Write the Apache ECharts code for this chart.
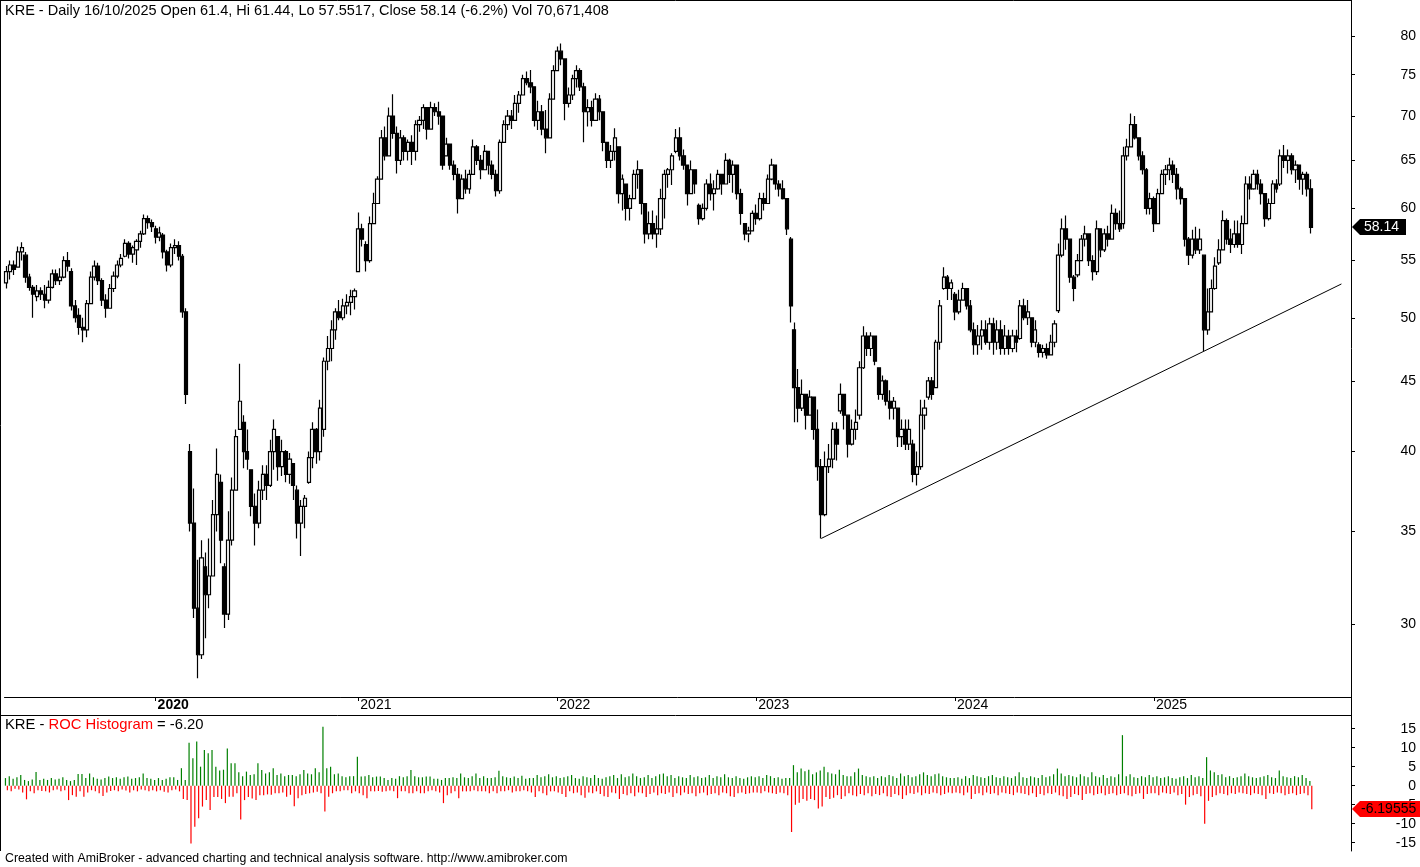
<!DOCTYPE html>
<html><head><meta charset="utf-8">
<script src="https://cdn.jsdelivr.net/npm/echarts@6/dist/echarts.min.js"></script>
<style>html,body{margin:0;padding:0;background:#fff}#c{width:1420px;height:867px}</style>
</head><body><div id="c"></div>
<script>
// ---- data (weekly OHLC: [open, close, low, high]) ----
const firstWeek = '2019-04-01';
const futureWeeks = 10;
const candles2019 = [[53.0,54.0,52.5,54.5],[54.0,54.6,53.3,55.0],[54.6,54.2,53.7,55.0],[54.4,55.8,54.4,56.3],[55.8,56.2,55.0,56.7],[55.5,53.5,53.0,55.8],[53.5,52.6,52.3,53.8],[52.6,52.0,50.0,52.8],[51.8,52.3,51.4,52.8],[52.3,52.0,51.5,52.6],
[52.0,51.5,50.8,52.8],[51.5,52.6,51.2,53.2],[52.6,53.8,52.5,54.2],[53.8,53.2,52.8,54.2],[53.2,53.5,52.8,54.3],[53.5,55.0,53.4,55.4],[55.0,54.5,54.0,55.8],[54.0,51.0,50.6,54.3],[51.0,50.0,49.6,51.5],[50.2,49.2,48.6,50.8],
[49.2,49.0,48.0,50.0],[49.0,51.2,48.4,51.5],[51.2,53.5,51.2,54.0],[53.5,54.5,53.2,55.0],[54.5,53.2,52.8,54.8],[53.2,51.5,51.0,53.4],[51.5,50.8,50.0,52.0],[50.8,52.5,50.8,52.9],[52.5,53.6,52.2,54.0],[53.6,54.6,53.4,55.0],
[54.6,55.2,54.4,55.6],[55.4,56.6,55.3,57.0],[56.6,55.6,55.2,56.8],[55.6,56.2,54.8,56.4],[56.0,56.8,54.6,57.0],[56.8,57.5,56.2,57.8],[57.5,59.0,57.4,59.4],[59.0,58.6,58.0,59.3],[58.6,58.2,57.7,58.9]];
const candles2020 = [[58.0,57.2,56.6,58.3],[57.2,57.6,56.8,58.2],[57.4,55.8,55.2,57.6],[55.8,54.6,54.0,56.0],[54.6,56.2,54.4,56.6],[56.2,56.4,55.6,57.0],[56.4,55.4,55.0,56.8],[55.4,50.5,50.0,55.6],[50.5,44.0,43.3,50.8],[40.0,35.5,35.0,40.5],
[35.5,30.8,30.3,37.6],[30.8,28.5,27.4,33.4],[28.5,33.5,28.3,34.5],[33.0,31.5,29.3,33.8],[31.5,32.5,30.8,34.6],[32.5,36.0,32.5,36.9],[36.0,38.5,35.0,40.2],[38.0,34.5,33.2,38.5],[33.0,30.5,29.8,33.2],[30.5,34.5,30.2,36.2],
[34.5,37.5,34.2,38.3],[37.5,41.0,37.5,41.5],[41.5,43.5,41.5,46.3],[42.0,40.0,38.9,42.5],[40.0,39.5,38.8,41.5],[38.8,36.5,35.9,38.8],[36.5,35.5,34.2,37.3],[35.5,37.5,35.2,38.1],[37.5,38.5,36.9,39.1],[38.5,37.8,36.9,39.1],
[37.8,40.0,37.7,40.8],[40.0,41.5,38.8,42.2],[41.0,39.0,38.1,41.0],[39.0,40.0,38.4,40.8],[40.0,38.5,38.0,40.1],[38.5,39.5,37.9,39.9],[39.2,37.8,36.9,39.2],[37.5,35.5,34.6,37.8],[35.5,36.5,33.6,36.9],[36.5,37.0,35.2,37.2],
[38.0,39.6,37.9,40.0],[39.6,41.5,38.9,42.0],[41.5,40.0,39.2,41.6],[40.0,43.0,39.4,43.6],[41.5,46.5,41.0,46.8],[46.5,47.5,45.8,48.5],[47.5,49.0,46.5,49.8],[49.0,50.5,48.2,50.8],[50.5,50.0,49.8,51.5],[50.0,51.0,49.8,51.6],
[51.0,51.3,50.3,52.0],[51.3,51.8,50.2,52.4],[51.8,52.3,50.7,52.5]];
const candles2021 = [[54.0,58.0,54.0,59.6],[58.0,57.0,56.3,58.5],[56.5,55.0,54.0,56.8],[55.0,58.5,54.8,59.2],[58.5,60.5,58.5,61.6],[60.5,63.0,60.5,63.3],[63.0,67.5,63.0,68.4],[67.5,65.5,65.0,68.8],[65.5,70.0,65.5,71.0],[70.0,68.0,67.4,72.6],
[68.0,65.0,63.6,68.8],[65.0,67.5,64.5,68.4],[67.5,66.0,65.0,67.8],[66.0,67.0,65.0,67.3],[67.0,66.0,64.5,67.8],[66.0,69.0,65.0,69.5],[69.0,69.5,68.2,70.0],[69.5,71.0,68.5,71.4],[71.0,68.5,67.3,71.0],[68.5,71.0,68.5,71.7],
[71.0,70.5,70.0,71.5],[70.5,70.0,69.0,71.7],[70.0,64.5,64.0,70.0],[65.5,66.8,65.5,67.5],[66.8,64.5,64.0,66.8],[64.5,63.5,62.9,65.0],[63.5,61.0,59.5,64.2],[61.0,63.0,61.0,63.5],[63.0,62.0,61.5,64.0],[62.0,63.5,61.5,64.0],
[63.5,66.5,63.5,67.3],[66.5,65.0,64.5,66.7],[65.0,64.0,63.0,65.6],[64.0,66.0,64.0,66.7],[66.0,64.5,63.5,66.0],[64.5,63.5,63.0,65.0],[63.5,61.8,61.2,64.0],[61.8,67.0,61.5,67.3],[67.0,69.0,67.0,69.5],[69.0,70.0,68.4,70.7],
[70.0,69.5,68.5,70.7],[69.5,71.5,69.5,72.5],[71.5,72.5,70.4,73.0],[72.5,74.5,72.5,75.0],[74.5,74.0,73.7,75.4],[74.0,73.5,72.7,75.6],[73.5,69.5,68.8,73.5],[69.5,70.5,68.4,71.8],[70.5,68.5,67.8,71.3],[68.5,67.5,65.8,70.7],
[67.5,72.0,67.5,72.7],[72.0,75.5,72.0,76.2]];
const candles2022 = [[75.5,78.0,75.5,78.6],[78.0,77.0,76.2,79.0],[77.0,71.5,69.5,77.0],[71.5,72.5,71.0,73.4],[72.5,74.5,71.9,75.0],[74.5,75.5,73.4,76.2],[75.5,73.5,73.0,75.8],[73.5,70.5,67.0,74.0],[70.5,71.0,68.8,72.0],[71.0,69.5,68.8,71.8],
[69.5,72.0,69.5,72.7],[72.0,70.5,69.5,72.5],[70.5,67.0,66.0,70.5],[67.0,65.0,64.2,67.0],[65.0,66.0,64.2,66.7],[66.0,67.5,65.0,68.6],[66.5,61.5,60.5,66.5],[61.5,63.0,59.8,63.5],[62.5,60.0,58.8,62.5],[60.0,61.0,58.8,61.4],
[61.0,63.5,61.0,64.0],[63.5,64.0,62.0,65.0],[64.0,60.5,59.4,64.0],[60.5,57.5,56.6,60.5],[57.5,58.5,57.0,59.7],[58.5,57.5,57.0,59.8],[57.5,58.0,56.2,59.3],[58.0,61.0,57.4,62.0],[61.0,63.5,59.0,64.0],[63.5,64.0,62.1,64.2],
[64.0,65.5,62.4,65.8],[66.0,67.5,65.8,68.5],[67.5,65.5,65.0,68.7],[65.5,64.5,64.0,66.2],[64.5,61.5,60.3,64.5],[61.5,64.0,61.5,65.0],[64.0,62.5,61.5,64.0],[60.3,59.0,58.4,60.5],[59.0,60.0,58.8,60.5],[60.0,62.5,59.8,63.0],
[62.5,61.5,60.8,63.6],[61.5,62.0,59.8,62.9],[62.0,63.5,61.9,64.0],[63.5,62.5,61.4,63.5],[62.5,65.0,62.5,65.8],[65.0,63.5,62.6,65.2],[63.5,64.5,61.6,65.0],[64.5,61.5,60.9,64.5],[61.5,59.5,58.4,62.0],[58.5,57.5,56.9,58.5],
[57.5,57.8,56.7,58.2],[57.8,59.5,57.8,59.8]];
const candles2023 = [[59.5,59.0,58.4,60.4],[59.0,61.0,58.8,61.6],[61.0,60.5,59.8,61.6],[60.5,63.0,60.5,63.5],[63.0,64.5,62.9,65.2],[64.5,62.5,61.9,64.5],[62.5,62.0,61.2,62.9],[62.0,61.0,60.9,62.9],[61.0,58.0,57.4,61.0],[57.0,51.0,49.6,57.2],
[49.0,44.5,42.0,49.6],[44.5,43.0,42.0,45.9],[43.0,44.0,42.8,45.1],[44.0,42.5,41.5,44.0],[42.5,43.8,42.5,44.3],[43.8,41.5,40.8,43.8],[41.5,39.0,38.1,42.9],[39.0,36.0,34.6,39.5],[36.0,39.0,35.9,40.0],[39.0,39.5,38.6,40.5],
[39.5,41.5,38.9,42.0],[41.5,40.5,39.4,42.0],[42.8,44.0,42.6,44.8],[44.0,42.5,41.5,44.0],[42.5,40.5,39.6,42.5],[40.5,41.5,40.4,42.2],[41.5,42.0,40.8,42.9],[42.5,46.0,42.2,46.5],[46.0,48.5,45.9,49.3],[48.5,47.5,46.9,48.8],
[47.5,48.5,46.9,48.8],[48.5,46.5,46.2,48.5],[46.0,44.0,43.6,46.0],[44.0,45.0,43.6,45.4],[45.0,43.5,43.2,45.1],[43.5,43.0,42.2,44.3],[43.0,43.5,42.2,43.8],[43.0,41.0,40.3,43.0],[41.0,41.5,40.3,42.2],[41.5,40.5,40.1,42.2],
[40.5,41.5,40.1,42.2],[40.5,38.5,38.0,40.8],[38.5,39.0,37.8,40.0],[39.0,42.5,38.8,43.6],[42.5,43.0,41.5,43.6],[43.8,45.0,43.6,45.3],[45.0,44.0,43.6,45.3],[44.5,48.0,44.5,48.2],[48.0,51.0,47.4,51.5],[52.5,53.5,52.4,54.4],
[53.5,52.5,51.5,53.7],[52.5,53.0,51.5,53.3]];
const candles2024 = [[52.0,50.5,49.8,52.2],[50.5,51.5,50.3,52.4],[51.5,52.5,51.5,53.0],[52.5,51.0,50.7,52.5],[51.0,49.0,48.8,51.5],[49.0,47.8,47.0,49.6],[47.8,48.5,47.0,49.4],[48.5,49.0,47.4,49.8],[49.0,48.0,47.8,49.8],[48.0,49.5,47.4,50.0],
[49.5,48.0,47.0,50.0],[48.0,49.0,47.4,49.8],[49.0,47.5,47.0,49.8],[47.5,48.5,47.0,49.4],[48.5,47.5,47.0,49.0],[47.5,48.5,47.2,49.0],[48.5,48.0,47.2,49.0],[48.3,51.0,48.2,51.5],[51.0,50.0,49.8,51.6],[50.0,50.5,49.4,51.5],
[50.0,48.0,47.6,50.0],[48.0,49.0,47.6,49.8],[47.8,47.2,46.8,48.0],[47.2,47.5,46.8,47.8],[47.5,47.0,46.7,47.9],[47.0,48.0,47.0,48.6],[48.0,49.5,47.6,49.8],[50.6,55.5,50.4,56.6],[55.5,58.0,55.3,59.0],[58.0,57.0,56.0,59.3],
[57.0,53.5,53.0,57.0],[53.5,52.5,51.4,53.7],[53.7,55.0,53.5,55.6],[55.0,57.0,55.0,57.4],[57.0,57.5,56.3,58.3],[57.5,55.0,54.5,57.5],[55.0,54.0,53.2,55.5],[54.0,58.0,53.7,58.8],[58.0,56.0,55.3,58.0],[56.0,57.5,55.8,58.0],
[57.5,57.0,56.3,58.3],[57.0,59.5,57.0,60.4],[59.5,58.5,57.9,60.0],[58.5,58.0,57.7,59.8],[58.5,65.5,58.0,66.5],[65.5,66.5,65.0,67.4],[66.5,69.0,66.5,70.3],[69.0,67.5,67.3,70.0],[67.5,65.5,65.0,67.5],[65.5,64.0,63.5,66.0],
[64.0,60.0,59.4,64.2],[60.0,61.0,59.4,61.6]];
const candles2025 = [[61.0,58.5,57.7,61.2],[58.5,61.5,58.5,62.0],[61.5,63.5,61.5,64.0],[63.5,64.0,62.4,64.5],[64.0,64.5,62.9,65.3],[64.5,63.5,62.6,65.0],[63.5,62.0,60.9,64.2],[62.0,61.0,60.4,62.2],[61.0,57.0,56.3,61.0],[57.0,55.5,54.6,57.2],
[55.5,57.0,55.2,57.9],[57.0,56.0,55.6,58.2],[56.0,57.0,55.6,58.0],[55.5,49.0,47.3,55.5],[49.0,50.5,48.6,52.5],[50.5,52.5,50.5,53.3],[52.5,54.5,52.4,55.3],[54.8,56.0,54.6,57.0],[56.0,58.8,56.0,59.8],[58.8,57.0,56.5,59.0],
[57.0,56.5,55.7,58.0],[56.5,57.5,56.2,58.8],[57.5,56.5,56.2,58.8],[56.5,58.5,55.6,59.3],[58.5,62.5,58.5,63.3],[62.5,62.0,60.9,63.3],[62.0,63.5,61.9,64.0],[63.5,62.5,61.9,64.0],[62.5,61.5,60.4,63.0],[61.5,59.0,58.2,61.5],
[59.0,60.5,58.8,61.0],[60.5,62.5,60.5,62.9],[62.5,62.0,61.6,63.0],[62.5,65.5,62.3,66.2],[65.5,65.0,64.2,66.7],[65.0,65.5,63.6,66.2],[65.5,64.0,63.5,65.8],[64.0,64.5,62.6,65.0],[64.5,63.0,61.9,64.5],[63.0,63.5,61.4,63.8],
[63.5,62.0,61.2,63.8],[62.0,58.14,57.55,63.0]];

// ROC histogram (largest up day and largest down day of each week, %)
const rocUp2019 = [2.0,2.5,1.8,2.2,2.8,1.5,1.2,1.6,3.6,1.5,1.8,1.5,2.0,1.6,1.8,2.2,1.5,1.2,1.5,3.1,3.1,2.0,3.2,2.2,1.8,1.6,2.0,2.4,2.0,2.2,1.8,2.2,2.4,1.8,2.0,2.2,3.2,2.0,1.8];
const rocDown2019 = [-1.2,-1.5,-0.8,-1.0,-1.8,-3.6,-1.5,-2.0,-1.2,-1.4,-1.5,-1.8,-1.2,-1.0,-1.5,-1.2,-3.8,-2.5,-2.9,-1.5,-2.9,-1.8,-1.2,-1.5,-2.0,-2.7,-1.8,-1.4,-1.2,-1.5,-1.0,-1.3,-1.8,-1.2,-1.5,-1.0,-1.2,-1.5,-1.2];
const rocUp2020 = [1.5,2.0,1.5,1.8,2.2,2.2,1.5,4.6,1.5,11.3,7.2,11.6,5.0,9.4,8.5,9.4,5.0,4.0,4.2,9.8,5.9,5.9,3.5,2.5,3.7,2.8,3.0,5.9,4.1,3.2,3.5,4.6,2.8,3.2,2.5,2.8,2.8,2.5,3.0,4.1,3.2,3.0,4.6,3.5,15.5,4.6,5.0,3.0,3.2,2.5,2.2,2.5,2.5];
const rocDown2020 = [-1.5,-1.2,-1.6,-1.8,-1.2,-1.0,-1.5,-3.5,-3.8,-15.2,-10.8,-8.6,-5.5,-3.8,-6.4,-3.0,-3.0,-3.5,-4.6,-2.9,-2.9,-2.0,-8.9,-3.8,-3.0,-3.4,-3.8,-2.5,-2.5,-2.3,-2.4,-2.0,-2.0,-1.8,-2.9,-2.4,-5.4,-3.3,-2.5,-2.2,-2.0,-1.8,-1.6,-2.0,-6.8,-2.9,-2.0,-1.5,-1.5,-1.2,-1.2,-2.0,-1.5];
const rocUp2021 = [7.6,2.4,2.5,2.8,2.2,2.4,2.4,2.0,1.5,2.0,1.8,2.5,2.2,2.5,4.1,2.5,2.2,2.2,2.4,2.4,1.8,1.8,1.5,2.0,2.0,2.2,2.0,3.2,2.2,2.0,2.5,3.2,2.0,2.5,2.0,2.0,2.2,3.9,2.5,2.2,2.0,2.4,2.0,2.6,1.8,2.0,2.0,2.8,2.2,2.5,3.0,2.2];
const rocDown2021 = [-2.0,-2.5,-3.3,-1.5,-1.5,-1.4,-1.6,-1.5,-1.3,-1.5,-3.3,-1.5,-1.5,-2.0,-2.0,-1.5,-2.0,-2.0,-1.5,-1.2,-1.5,-1.8,-4.6,-2.5,-2.0,-1.5,-3.3,-1.5,-1.5,-1.5,-1.2,-1.5,-1.5,-1.5,-2.0,-1.5,-2.0,-1.5,-1.5,-1.2,-1.8,-1.5,-1.5,-1.2,-1.5,-1.8,-3.0,-1.5,-2.0,-2.5,-1.5,-1.5];
const rocUp2022 = [2.5,2.0,2.2,2.5,2.8,2.0,1.8,2.5,2.2,2.0,2.8,2.0,1.8,2.2,2.5,2.8,2.0,3.0,2.2,2.5,3.2,2.5,2.0,2.2,2.8,2.0,2.5,3.0,3.2,2.5,2.8,2.0,2.5,2.2,2.0,2.8,2.2,2.5,2.0,2.2,2.8,2.0,2.5,2.2,3.0,2.2,2.0,2.5,2.0,1.8,2.2,2.5];
const rocDown2022 = [-1.8,-2.2,-3.0,-1.5,-2.0,-1.8,-2.5,-3.2,-1.8,-2.0,-1.5,-2.2,-2.8,-3.0,-1.8,-2.0,-3.5,-2.2,-2.5,-2.0,-2.8,-1.8,-2.0,-3.0,-2.2,-1.8,-2.5,-2.0,-2.2,-1.8,-3.0,-2.0,-2.5,-1.8,-2.2,-2.0,-2.8,-2.0,-1.8,-2.5,-2.2,-2.0,-2.5,-1.8,-2.0,-2.8,-3.0,-2.0,-1.8,-2.2,-2.0,-1.8];
const rocUp2023 = [2.2,2.5,2.0,2.8,2.5,2.0,2.2,1.8,2.0,2.0,5.4,3.5,4.5,3.8,4.2,3.0,3.5,4.0,5.0,3.5,3.2,3.0,4.2,2.8,2.5,2.5,3.5,4.5,2.8,2.5,2.2,2.5,2.0,2.5,2.2,2.8,2.5,2.0,3.2,2.5,2.8,2.2,2.5,3.0,3.5,2.8,2.5,3.0,3.2,2.5,2.2,2.0];
const rocDown2023 = [-1.8,-2.0,-1.5,-1.8,-2.0,-2.2,-1.8,-2.0,-2.5,-12.2,-5.0,-4.5,-3.5,-4.0,-3.5,-3.8,-6.0,-5.5,-3.0,-3.5,-3.2,-2.5,-3.5,-2.8,-2.0,-2.5,-2.8,-2.2,-2.5,-2.0,-2.8,-2.2,-2.5,-2.0,-2.8,-3.0,-2.2,-2.5,-3.5,-2.5,-2.0,-2.2,-1.8,-2.5,-2.0,-2.2,-1.8,-2.0,-2.5,-2.2,-1.8,-2.0];
const rocUp2024 = [2.0,2.2,1.8,2.5,2.0,2.8,2.5,2.2,2.0,2.5,2.8,2.2,2.0,2.5,2.2,2.0,2.5,3.5,2.2,2.0,2.5,2.2,2.0,2.8,2.2,2.5,3.0,4.5,3.2,2.5,2.8,2.5,2.2,3.0,2.5,2.2,3.5,2.5,2.2,2.8,2.0,2.5,2.2,3.0,13.3,2.5,3.0,2.2,2.0,2.5,2.2,2.8];
const rocDown2024 = [-1.8,-2.0,-2.5,-1.8,-3.5,-2.2,-2.0,-2.5,-1.8,-2.2,-2.0,-2.5,-1.8,-2.0,-2.2,-2.5,-1.8,-2.0,-2.2,-2.5,-2.0,-3.0,-2.2,-2.5,-2.0,-2.2,-1.8,-2.5,-2.8,-3.5,-3.0,-2.2,-2.5,-3.8,-2.2,-2.0,-2.5,-2.2,-2.0,-2.5,-2.2,-2.0,-2.5,-2.2,-2.0,-2.5,-2.8,-2.2,-2.0,-3.5,-2.2,-2.0];
const rocUp2025 = [2.2,2.5,2.0,2.2,2.5,2.0,1.8,2.2,2.5,2.0,2.8,2.2,2.5,2.0,7.5,4.0,3.5,2.8,3.0,2.2,2.5,2.0,2.2,2.5,3.2,2.5,2.2,2.0,2.2,2.5,2.8,2.2,2.0,4.0,2.5,2.2,2.0,2.5,2.2,2.8,2.0,1.2];
const rocDown2025 = [-2.0,-2.5,-1.8,-2.0,-2.2,-1.8,-2.5,-2.2,-5.0,-3.0,-2.5,-2.2,-2.8,-10.0,-4.0,-3.0,-2.5,-2.0,-2.2,-2.5,-2.0,-2.2,-1.8,-2.0,-2.2,-2.5,-2.0,-2.2,-2.5,-3.5,-2.0,-2.2,-1.8,-2.0,-2.5,-2.2,-2.0,-2.5,-2.2,-2.0,-2.5,-6.2];

const priceTicks = [30,35,40,45,50,55,60,65,70,75,80];
const rocTicks = [-15,-10,-5,0,5,10,15];
const trendStart = [213, 34.6];
const trendEnd = [349, 52.9];
const lastClose = 58.14;
const lastRoc = -6.19555;
const headerText = 'KRE - Daily 16/10/2025 Open 61.4, Hi 61.44, Lo 57.5517, Close 58.14 (-6.2%) Vol 70,671,408';
const footerText = 'Created with AmiBroker - advanced charting and technical analysis software. http://www.amibroker.com';

// ---- build ----
const candles = [].concat(candles2019,candles2020,candles2021,candles2022,candles2023,candles2024,candles2025);
const rocUp = [].concat(rocUp2019,rocUp2020,rocUp2021,rocUp2022,rocUp2023,rocUp2024,rocUp2025);
const rocDown = [].concat(rocDown2019,rocDown2020,rocDown2021,rocDown2022,rocDown2023,rocDown2024,rocDown2025);
const nCat = candles.length + futureWeeks;
const cats = [];
const t0 = Date.parse(firstWeek + 'T00:00:00Z');
for (let i = 0; i < nCat; i++) cats.push(new Date(t0 + i*7*86400000).toISOString().slice(0,10));
function yearOf(i){ return new Date(Date.parse(cats[i]+'T00:00:00Z') + 3*86400000).getUTCFullYear(); }
const yearStart = cats.map((c,i) => i > 0 && yearOf(i) !== yearOf(i-1));

const FONT = '"Liberation Sans", Arial, sans-serif';
const GL = 4.5, GW = 1346.5;

const chart = echarts.init(document.getElementById('c'), null, {renderer:'canvas'});
chart.setOption({
  animation: false,
  backgroundColor: '#fff',
  title: [
    {text: headerText, left: 5, top: 3, padding: 0, textStyle:{fontFamily:FONT, fontSize:14.5, fontWeight:'normal', color:'#000'}},
    {text: '{a|KRE - }{r|ROC Histogram}{a| = -6.20}', left: 5, top: 717, padding: 0,
     textStyle:{fontFamily:FONT, fontSize:14.8, fontWeight:'normal', color:'#000',
       rich:{a:{fontFamily:FONT, fontSize:14.8, color:'#000'}, r:{fontFamily:FONT, fontSize:14.8, color:'#ff0000'}}}},
    {text: footerText, left: 5, top: 853, padding: 0, textStyle:{fontFamily:FONT, fontSize:12.3, fontWeight:'normal', color:'#000'}}
  ],
  grid: [
    {left: GL, width: GW, top: 0, height: 697},
    {left: GL, width: GW, top: 715, height: 136}
  ],
  xAxis: [
    {type:'category', gridIndex:0, data: cats, boundaryGap:true,
     axisLine:{show:true, onZero:false, lineStyle:{color:'#000', width:1}},
     axisTick:{show:true, alignWithLabel:true, length:4, interval:(i)=>yearStart[i], lineStyle:{color:'#000'}},
     axisLabel:{interval:(i)=>yearStart[i], align:'left', margin:1, padding:[0,0,0,2], color:'#000', fontFamily:FONT, fontSize:14,
       formatter:(v,i)=>{ const y = yearOf(i); return y === 2020 ? '{b|'+y+'}' : String(y); },
       rich:{b:{fontWeight:'bold', fontFamily:FONT, fontSize:14, color:'#000'}}},
     splitLine:{show:false}},
    {type:'category', gridIndex:1, data: cats, boundaryGap:true, show:false}
  ],
  yAxis: [
    {type:'log', gridIndex:0, position:'right', logBase:10, min:26.56, max:84.95,
     axisLine:{show:true, onZero:false, lineStyle:{color:'#000', width:1}},
     axisTick:{show:true, length:4, customValues: priceTicks, lineStyle:{color:'#000'}},
     axisLabel:{customValues: priceTicks, align:'right', margin:65, color:'#000', fontFamily:FONT, fontSize:14},
     splitLine:{show:false}},
    {type:'value', gridIndex:1, position:'right', min:-17.2, max:18.6,
     axisLine:{show:true, onZero:false, lineStyle:{color:'#000', width:1}},
     axisTick:{show:true, length:4, customValues: rocTicks, lineStyle:{color:'#000'}},
     axisLabel:{customValues: rocTicks, align:'right', margin:65, color:'#000', fontFamily:FONT, fontSize:14},
     splitLine:{show:false}}
  ],
  series: [
    {type:'candlestick', xAxisIndex:0, yAxisIndex:0, data: candles, barWidth: 3.6,
     itemStyle:{color:'#ffffff', color0:'#000000', borderColor:'#000000', borderColor0:'#000000', borderColorDoji:'#000000', borderWidth:1.2}},
    {type:'line', xAxisIndex:0, yAxisIndex:0, data:[trendStart, trendEnd], symbol:'none', z:5,
     lineStyle:{color:'#000', width:1}},
    {type:'bar', xAxisIndex:1, yAxisIndex:1, data: rocUp, barWidth:1.2, barGap:'60%', itemStyle:{color:'#008000'}},
    {type:'bar', xAxisIndex:1, yAxisIndex:1, data: rocDown, barWidth:1.2, itemStyle:{color:'#ff0000'}}
  ]
});

const yP = Math.round(chart.convertToPixel({yAxisIndex:0}, lastClose));
const yR = Math.round(chart.convertToPixel({yAxisIndex:1}, lastRoc));
chart.setOption({
  graphic: [
    {type:'line', shape:{x1:0.5, y1:0, x2:0.5, y2:851}, style:{stroke:'#000', lineWidth:1}, z:100},
    {type:'line', shape:{x1:0, y1:0.5, x2:1351, y2:0.5}, style:{stroke:'#000', lineWidth:1}, z:100},
    {type:'line', shape:{x1:0, y1:715.5, x2:1351, y2:715.5}, style:{stroke:'#000', lineWidth:1}, z:100},
    {type:'line', shape:{x1:1351.5, y1:697, x2:1351.5, y2:716}, style:{stroke:'#000', lineWidth:1}, z:100},
    {type:'polygon', shape:{points:[[1352,yP],[1360,yP-8],[1406,yP-8],[1406,yP+8],[1360,yP+8]]}, style:{fill:'#000'}, z:100},
    {type:'text', x:1364, y:yP, style:{text: lastClose.toFixed(2), fill:'#fff', font:'14px '+FONT, verticalAlign:'middle'}, z:101},
    {type:'polygon', shape:{points:[[1352,yR],[1360,yR-8],[1420,yR-8],[1420,yR+8],[1360,yR+8]]}, style:{fill:'#ff0000'}, z:100},
    {type:'text', x:1361, y:yR, style:{text: String(lastRoc), fill:'#000', font:'14px '+FONT, verticalAlign:'middle'}, z:101}
  ]
});
</script></body></html>
